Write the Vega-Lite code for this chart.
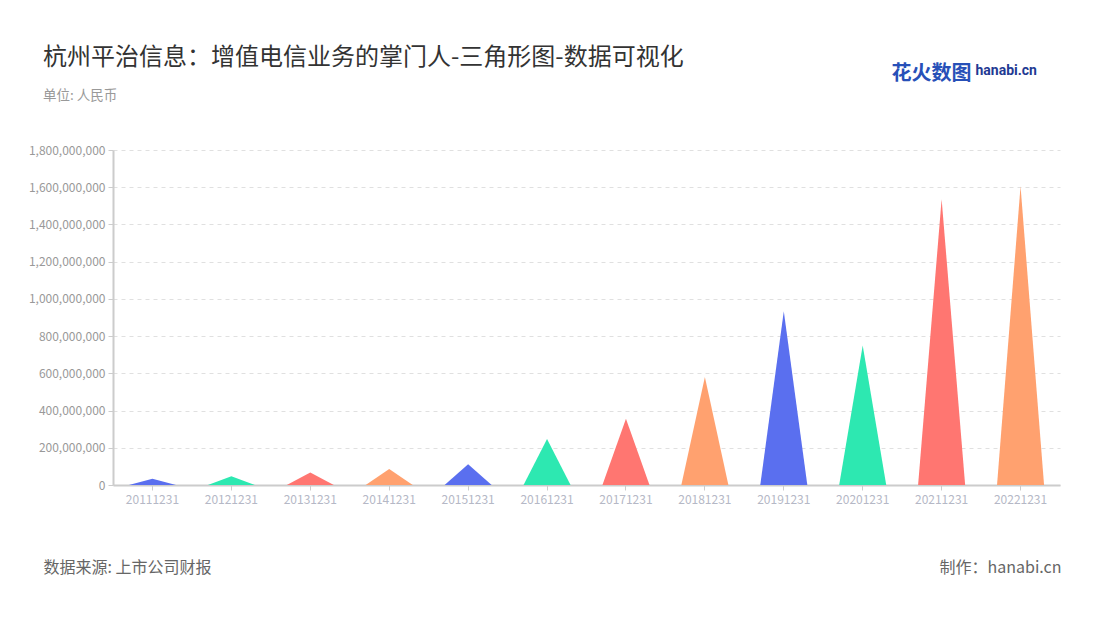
{
  "$schema": "https://vega.github.io/schema/vega-lite/v6.json",
  "width": 947,
  "height": 335,
  "autosize": {"type": "none"},
  "padding": {"left": 113, "top": 150, "right": 40, "bottom": 135},
  "background": "white",
  "config": {"font": "Noto Sans CJK SC", "view": {"stroke": null}},
  "title": {
    "text": "杭州平治信息：增值电信业务的掌门人-三角形图-数据可视化",
    "subtitle": "单位: 人民币",
    "anchor": "start",
    "frame": "group",
    "dx": -70,
    "dy": 79,
    "offset": 40,
    "fontSize": 24,
    "fontWeight": "normal",
    "color": "#333333",
    "subtitleFontSize": 13.5,
    "subtitleColor": "#999999",
    "subtitlePadding": 19
  },
  "data": {
    "values": [
      {"date": "20111231", "value": 34000000},
      {"date": "20121231", "value": 47000000},
      {"date": "20131231", "value": 67000000},
      {"date": "20141231", "value": 86000000},
      {"date": "20151231", "value": 111000000},
      {"date": "20161231", "value": 247000000},
      {"date": "20171231", "value": 356000000},
      {"date": "20181231", "value": 580000000},
      {"date": "20191231", "value": 934000000},
      {"date": "20201231", "value": 749000000},
      {"date": "20211231", "value": 1536000000},
      {"date": "20221231", "value": 1605000000}
    ]
  },
  "layer": [
    {
      "transform": [
        {"window": [{"op": "row_number", "as": "i"}], "sort": [{"field": "date"}]},
        {"calculate": "0", "as": "l"},
        {"calculate": "datum.value", "as": "m"},
        {"calculate": "0", "as": "r"},
        {"fold": ["l", "m", "r"], "as": ["pt", "h"]},
        {"calculate": "datum.i + (datum.pt === 'l' ? -0.298 : datum.pt === 'r' ? 0.298 : 0)", "as": "xp"}
      ],
      "mark": {"type": "area"},
      "encoding": {
        "x": {
          "field": "xp",
          "type": "quantitative",
          "scale": {"domain": [0.5, 12.5], "nice": false, "zero": false},
          "axis": {
            "orient": "top",
            "title": "hanabi.cn",
            "titleX": 862,
            "titleY": -80,
            "titleAlign": "left",
            "titleBaseline": "middle",
            "titleFont": "Roboto",
            "titleFontSize": 14,
            "titleFontWeight": "bold",
            "titleColor": "#1f3a93",
            "labels": false,
            "ticks": false,
            "domain": false,
            "grid": false
          }
        },
        "y": {
          "field": "h",
          "type": "quantitative",
          "stack": null,
          "scale": {"domain": [0, 1800000000]},
          "axis": {
            "title": "制作：hanabi.cn",
            "titleAngle": 0,
            "titleX": 948,
            "titleY": 417,
            "titleAlign": "right",
            "titleBaseline": "middle",
            "titleFontSize": 16,
            "titleFontWeight": "normal",
            "titleColor": "#666666",
            "format": ",d",
            "tickCount": 9,
            "labelColor": "#999999",
            "labelFontSize": 12,
            "labelPadding": 3,
            "tickSize": 5,
            "tickColor": "#cccccc",
            "domainColor": "#cccccc",
            "domainWidth": 2,
            "grid": true,
            "gridDash": [4, 4],
            "gridColor": "#e0e0e0"
          }
        },
        "color": {
          "field": "date",
          "type": "nominal",
          "scale": {
            "range": ["#5a6fef", "#2de8b1", "#ff7671", "#ffa16f", "#5a6fef", "#2de8b1", "#ff7671", "#ffa16f", "#5a6fef", "#2de8b1", "#ff7671", "#ffa16f"]
          },
          "legend": null
        }
      }
    },
    {
      "mark": {"type": "point", "opacity": 0},
      "encoding": {
        "x": {
          "field": "date",
          "type": "nominal",
          "scale": {"type": "band", "paddingInner": 0, "paddingOuter": 0},
          "axis": {
            "orient": "bottom",
            "title": "数据来源: 上市公司财报",
            "titleX": -70,
            "titleY": 82,
            "titleAlign": "left",
            "titleBaseline": "middle",
            "titleFontSize": 16,
            "titleFontWeight": "normal",
            "titleColor": "#666666",
            "labelAngle": 0,
            "labelColor": "#b5b8c6",
            "labelFontSize": 12,
            "labelPadding": 4,
            "tickSize": 5,
            "tickColor": "#cccccc",
            "domainColor": "#cccccc",
            "domainWidth": 2,
            "grid": false
          }
        },
        "y": {
          "field": "value",
          "type": "quantitative",
          "scale": {"domain": [0, 1800000000]},
          "axis": {
            "orient": "right",
            "title": "花火数图",
            "titleAngle": 0,
            "titleX": -89,
            "titleY": -77,
            "titleAlign": "right",
            "titleBaseline": "middle",
            "titleFontSize": 20,
            "titleFontWeight": "bold",
            "titleColor": "#2750b8",
            "labels": false,
            "ticks": false,
            "domain": false,
            "grid": false
          }
        }
      }
    }
  ],
  "resolve": {
    "scale": {"x": "independent"},
    "axis": {"x": "independent", "y": "independent"}
  }
}
